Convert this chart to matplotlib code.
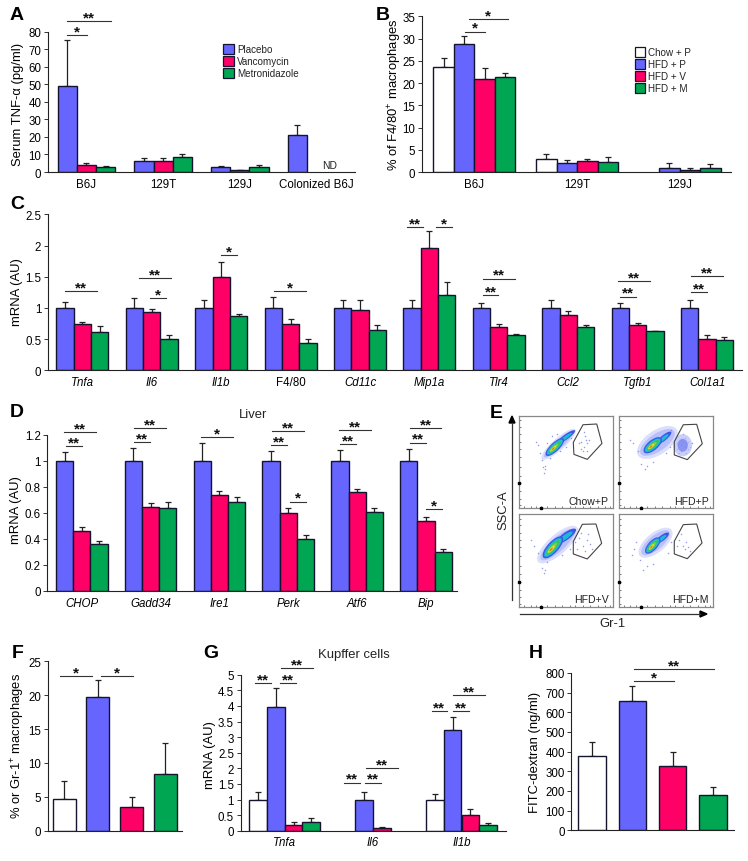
import matplotlib
matplotlib.use("Agg")
import matplotlib.pyplot as plt
import numpy as np
from matplotlib.lines import Line2D
from matplotlib.patches import Ellipse, Polygon, Rectangle
from matplotlib.ticker import FormatStrFormatter
from matplotlib.transforms import Affine2D

plt.rcParams["font.family"] = ["Liberation Sans", "DejaVu Sans"]
plt.rcParams["mathtext.fontset"] = "custom"
plt.rcParams["mathtext.rm"] = "Liberation Sans"
plt.rcParams["mathtext.default"] = "regular"

W, H = 748, 862

WHITE = "#ffffff"
BLUE = "#6666ff"
RED = "#ff0066"
GREEN = "#00a651"
EDGE = "#14142e"
TICK_FS = 8.3
LABEL_FS = 9.4

# panel A
a_groups = ["B6J", "129T", "129J", "Colonized B6J"]
a_names = ["Placebo", "Vancomycin", "Metronidazole"]
a_means = [[49, 4, 2.8], [6.3, 6.5, 8.3], [2.8, 1, 2.7], [21, np.nan, np.nan]]
a_tops = [[75.5, 5.3, 3.7], [7.7, 8.2, 10], [3.6, 1.4, 4.2], [27, np.nan, np.nan]]
a_ticks = [0, 10, 20, 30, 40, 50, 60, 70, 80]

# panel B
b_groups = ["B6J", "129T", "129J"]
b_names = ["Chow + P", "HFD + P", "HFD + V", "HFD + M"]
b_means = [[23.7, 28.7, 21, 21.3], [3, 2, 2.4, 2.3], [np.nan, 1, 0.5, 0.9]]
b_tops = [[25.6, 30.5, 23.3, 22.2], [4, 2.8, 2.9, 3.4], [np.nan, 2, 1, 1.8]]
b_ticks = [0, 5, 10, 15, 20, 25, 30, 35]

# panel C
c_groups = ["Tnfa", "Il6", "Il1b", "F4/80", "Cd11c", "Mip1a", "Tlr4", "Ccl2", "Tgfb1", "Col1a1"]
c_means = [[1, .74, .61], [1, .93, .5], [1, 1.49, .87], [1, .75, .44], [1, .97, .65],
           [1, 1.96, 1.2], [1, .69, .56], [1, .88, .69], [1, .72, .63], [1, .5, .49]]
c_tops = [[1.1, .77, .71], [1.16, .99, .56], [1.12, 1.73, .91], [1.17, .82, .5], [1.13, 1.12, .72],
          [1.12, 2.23, 1.41], [1.08, .74, .58], [1.12, .95, .73], [1.08, .76, .635], [1.13, .56, .54]]
c_ticks = [0, .5, 1, 1.5, 2, 2.5]

# panel D
d_groups = ["CHOP", "Gadd34", "Ire1", "Perk", "Atf6", "Bip"]
d_means = [[1, .46, .365], [1, .645, .64], [1, .735, .685], [1, .6, .4], [1, .76, .605], [1, .54, .3]]
d_tops = [[1.07, .49, .385], [1.1, .68, .685], [1.135, .77, .725], [1.075, .635, .43],
          [1.085, .785, .635], [1.095, .57, .32]]
d_ticks = [0, .2, .4, .6, .8, 1, 1.2]

# panel F
f_means = [[4.7, 19.7, 3.5, 8.3]]
f_tops = [[7.4, 22.2, 4.9, 13]]
f_ticks = [0, 5, 10, 15, 20, 25]

# panel G
g_groups = ["Tnfa", "Il6", "Il1b"]
g_means = [[1, 3.97, .17, .27], [np.nan, 1, .08, np.nan], [1, 3.23, .5, .18]]
g_tops = [[1.25, 4.57, .27, .41], [np.nan, 1.23, .13, np.nan], [1.17, 3.66, .68, .24]]
g_ticks = [0, .5, 1, 1.5, 2, 2.5, 3, 3.5, 4, 4.5, 5]

# panel H
h_means = [[380, 658, 328, 178]]
h_tops = [[449, 733, 400, 218]]
h_ticks = [0, 100, 200, 300, 400, 500, 600, 700, 800]

# panel E, read in percent of each plot box
e_names = ["Chow+P", "HFD+P", "HFD+V", "HFD+M"]
e_gates = [
    [(68.2, 90.2), (82.9, 91), (88.5, 70), (72.8, 52.7), (58.5, 58.1), (57.8, 71.1)],
    [(68.6, 90.2), (82.9, 90.7), (88.9, 69.7), (72.9, 52.4), (59, 57.5), (59, 71.9)],
    [(67.5, 88.9), (82.1, 89.2), (88.2, 68.4), (72.8, 51.5), (57.8, 56.9), (57.8, 70.2)],
    [(68.6, 88.5), (82.9, 89.2), (88.6, 68.7), (72.9, 51.8), (59, 56.9), (59, 70.6)],
]
# centre x, centre y, length, width, angle
e_clouds = [(38, 66, 26, 9.5, 44), (36, 68, 24, 11, 40), (36, 64, 30, 12, 48), (36, 66, 22, 10, 48)]
e_tails = [(50, 77, 24, 5.5, 36), (48, 76, 20, 6, 40), (50, 76, 26, 8, 36), (46, 74, 18, 6, 38)]
e_halos = [(42, 69, 48, 13, 42), (41, 71, 50, 26, 35), (41, 67, 56, 21, 42), (39, 69, 44, 21, 40)]
e_dots = [
    [(66, 72), (69, 66), (71, 74), (68, 62), (73, 70), (70, 78), (66, 64), (72, 62), (75, 74), (64, 70),
     (69, 82), (20, 68), (22, 60), (24, 52), (28, 46), (27, 42), (33, 54), (44, 62), (50, 66), (40, 80),
     (35, 78), (30, 70), (18, 72), (55, 76), (25, 44), (26, 38)],
    [(62, 70), (66, 74), (70, 76), (74, 72), (76, 66), (72, 60), (66, 62), (62, 64), (68, 80), (78, 70),
     (70, 66), (66, 68), (72, 70), (68, 72), (74, 64), (64, 60), (20, 62), (15, 70), (24, 48), (30, 46),
     (54, 66), (56, 84), (50, 60), (36, 50), (12, 74), (28, 42)],
    [(64, 74), (68, 66), (72, 72), (70, 60), (76, 68), (66, 80), (62, 62), (74, 78), (60, 70), (78, 62),
     (12, 72), (16, 66), (20, 58), (24, 42), (28, 40), (30, 48), (46, 56), (54, 62), (58, 78), (26, 36)],
    [(64, 72), (68, 66), (72, 70), (70, 62), (74, 64), (66, 78), (62, 66), (76, 60), (16, 62), (18, 70),
     (22, 50), (30, 44), (36, 46), (52, 58), (56, 70), (14, 56), (26, 40)],
]
e_ticks_y = [3, 10, 18, 27, 35, 44, 55, 64, 72, 80, 88, 95]
e_ticks_x = [5, 12, 18, 23, 30, 38, 46, 54, 60, 68, 76, 84, 92, 97]

fig = plt.figure(figsize=(W / 100, H / 100), dpi=100)
PX = Affine2D().scale(1 / W, -1 / H).translate(0, 1) + fig.transFigure


def fig_line(x, y, color="#333333", lw=0.8):
    fig.add_artist(Line2D(x, y, transform=PX, color=color, lw=lw))


def fig_text(x, y, s, **kw):
    kw.setdefault("ha", "center")
    kw.setdefault("va", "center")
    kw.setdefault("fontsize", 7)
    fig.text(x, y, s, transform=PX, **kw)


def make_axes(left, right, top, bottom):
    return fig.add_axes([left / W, 1 - bottom / H, (right - left) / W, (bottom - top) / H])


def bar_panel(box, means, tops, colors, width, xlim, ylim, ticks, ylabel, label_pos,
              groups=None, italic=True, pad=4):
    ax = make_axes(*box)
    means = np.array(means, dtype=float)
    tops = np.array(tops, dtype=float)
    n = means.shape[1]
    for i in range(means.shape[0]):
        for j in range(n):
            if np.isnan(means[i, j]):
                continue
            # one bar per step when there is a single group
            x = j if len(means) == 1 else i + (j - (n - 1) / 2) * width
            ax.bar(x, means[i, j], width, color=colors[j], edgecolor=EDGE, linewidth=1.0, zorder=2)
            ax.errorbar(x, means[i, j], yerr=[[0], [tops[i, j] - means[i, j]]], color="#222222",
                        elinewidth=0.9, capsize=2.5, capthick=0.9, zorder=1)
    ax.set_xlim(*xlim)
    ax.set_ylim(*ylim)
    ax.set_yticks(ticks)
    ax.yaxis.set_major_formatter(FormatStrFormatter("%g"))
    ax.tick_params(axis="y", length=3.2, width=0.7, pad=1.5, labelsize=TICK_FS, color="#333333")
    if groups:
        ax.set_xticks(range(len(groups)))
        ax.set_xticklabels(groups)
        ax.tick_params(axis="x", length=0, pad=pad, labelsize=TICK_FS)
        if italic:
            for lab in ax.get_xticklabels():
                lab.set_fontstyle("normal" if lab.get_text() == "F4/80" else "italic")
    else:
        ax.set_xticks([])
    ax.spines[["top", "right"]].set_visible(False)
    ax.spines[["left", "bottom"]].set_linewidth(0.8)
    ax.spines[["left", "bottom"]].set_color("#222222")
    ax.set_ylabel(ylabel, fontsize=LABEL_FS, va="center")
    ax.yaxis.set_label_coords(*label_pos, transform=PX)
    return ax


def sig(x0, x1, y, stars):
    fig_line([x0, x1], [y, y])
    fig_text((x0 + x1) / 2, y - 5.5, stars, fontsize=11, fontweight="bold", va="center_baseline",
             color="#111111")


def legend(x, ys, names, colors, h):
    for y, name, col in zip(ys, names, colors):
        fig.add_artist(Rectangle((x, y), 10.5, h, transform=PX, facecolor=col, edgecolor=EDGE, lw=0.9))
        fig_text(x + 13.5, y + h / 2, name, ha="left", fontsize=7.1, color="#222222")


def flow_panel(box, idx, label):
    ax = make_axes(*box)
    ax.set_xlim(0, 100)
    ax.set_ylim(0, 100)
    ax.set_xticks(e_ticks_x)
    ax.set_yticks(e_ticks_y)
    ax.tick_params(length=1.5, width=0.5, direction="in", color="#444444", labelleft=False, labelbottom=False)
    ax.spines[:].set_color("#888888")
    ax.spines[:].set_linewidth(0.9)
    hx, hy, hl, hw, ha = e_halos[idx]
    ax.add_patch(Ellipse((hx, hy), hl, hw, angle=ha, facecolor="#d4d7fc", edgecolor="none", alpha=0.8))
    ax.add_patch(Ellipse((hx, hy), hl * .86, hw * .72, angle=ha, facecolor="#aab2f8", edgecolor="none", alpha=0.7))
    tx, ty, tl, tw, ta = e_tails[idx]
    ax.add_patch(Ellipse((tx, ty), tl, tw, angle=ta, facecolor="#3c55e6", edgecolor="none"))
    ax.add_patch(Ellipse((tx - 1, ty - 1), tl * .76, tw * .6, angle=ta, facecolor="#1cb8d8", edgecolor="none"))
    cx, cy, length, width, angle = e_clouds[idx]
    shift = np.radians(angle)
    layers = [(1.0, 1.0, "#3c55e6", 0), (.9, .8, "#2a8fe0", 0), (.82, .66, "#19c8d0", 0), (.7, .5, "#35c26a", 0),
              (.5, .36, "#7ed040", -.04), (.34, .24, "#e2e030", -.08), (.18, .14, "#f07020", -.1)]
    for fl, fw, col, off in layers:
        ax.add_patch(Ellipse((cx + off * length * np.cos(shift), cy + off * length * np.sin(shift)),
                             length * fl, width * fw, angle=angle, facecolor=col, edgecolor="none"))
    dx, dy = zip(*e_dots[idx])
    ax.scatter(dx, dy, s=1.2, color="#7684ee", linewidths=0, alpha=0.8)
    if idx == 1:
        # the gated population is dense in this sample
        ax.add_patch(Ellipse((68, 68), 20, 24, facecolor="#b4baf8", edgecolor="none", alpha=0.7))
        ax.add_patch(Ellipse((68, 68), 11, 14, facecolor="#6f7cf0", edgecolor="none", alpha=0.7))
    ax.add_patch(Polygon(e_gates[idx], closed=True, fill=False, edgecolor="#444444", lw=0.8))
    ax.plot([0, 23], [27, 0], "s", color="black", ms=2, clip_on=False, zorder=5, ls="none")
    ax.text(96, 8, label, ha="right", va="center", fontsize=7.6, color="#222222")


step_lim = (-0.5, 3.5)
a = bar_panel((48, 355, 32.7, 173), a_means, a_tops, [BLUE, RED, GREEN], .25, step_lim, (0, 80),
              a_ticks, "Serum TNF-α (pg/ml)", (18, 104), a_groups, italic=False)
b = bar_panel((421.7, 731, 17.3, 173), b_means, b_tops, [WHITE, BLUE, RED, GREEN], .2, (-.514, 2.5), (0, 35),
              b_ticks, "% of F4/80$^{+}$ macrophages", (395, 95), b_groups, italic=False)
c = bar_panel((47.7, 741.7, 215.3, 371.3), c_means, c_tops, [BLUE, RED, GREEN], .25, (-.5, 9.5), (0, 2.5),
              c_ticks, "mRNA (AU)", (17, 292), c_groups)
d = bar_panel((47.3, 457, 436, 592), d_means, d_tops, [BLUE, RED, GREEN], .25, (-.5, 5.45), (0, 1.2),
              d_ticks, "mRNA (AU)", (16, 510), d_groups)
f = bar_panel((48, 181.7, 662.3, 831.7), f_means, f_tops, [WHITE, BLUE, RED, GREEN], .68, (-.48, 3.49), (0, 25),
              f_ticks, "% or Gr-1$^{+}$ macrophages", (18, 746))
g = bar_panel((240.5, 505.7, 675.7, 831.7), g_means, g_tops, [WHITE, BLUE, RED, GREEN], .2, (-.5, 2.5), (0, 5),
              g_ticks, "mRNA (AU)", (210, 755), g_groups)
h = bar_panel((571.3, 734, 674, 831.3), h_means, h_tops, [WHITE, BLUE, RED, GREEN], .68, (-.51, 3.52), (0, 800),
              h_ticks, "FITC-dextran (ng/ml)", (535, 752))

flow_panel((519.3, 612.7, 416.7, 509), 0, e_names[0])
flow_panel((619, 712.7, 416.7, 509), 1, e_names[1])
flow_panel((519.3, 612.7, 515, 607.7), 2, e_names[2])
flow_panel((619, 712.7, 515, 607.7), 3, e_names[3])

# flow axis arrows
fig_line([512, 512], [601, 424], color="#333333", lw=0.9)
fig_line([520, 700], [615, 615], color="#333333", lw=0.9)
fig.add_artist(Polygon([(512, 417), (509, 424), (515, 424)], closed=True, transform=PX, color="black"))
fig.add_artist(Polygon([(707, 615), (700, 612), (700, 618)], closed=True, transform=PX, color="black"))
fig_text(503, 510, "SSC-A", rotation=90, fontsize=LABEL_FS, color="#222222")
fig_text(612, 624, "Gr-1", fontsize=LABEL_FS, color="#222222")

legend(223.3, [45, 57, 69], a_names, [BLUE, RED, GREEN], 10)
legend(635, [47.5, 59.5, 71.5, 83.5], b_names, [WHITE, BLUE, RED, GREEN], 10)

fig_text(330, 165.7, "ND", fontsize=7.4, color="#222222")
fig_text(253, 415, "Liver", fontsize=9.4, color="#222222")
fig_text(318, 655, "Kupffer cells", ha="left", fontsize=9.4, color="#222222")

panel_letters = [("A", 10, 16), ("B", 376, 16), ("C", 10, 205), ("D", 10, 413),
                 ("E", 490, 414), ("F", 12, 654), ("G", 203, 654), ("H", 529, 654)]
for letter, x, y in panel_letters:
    fig_text(x, y, letter, ha="left", fontsize=14, fontweight="bold", color="black")

sig_marks = [
    (67, 86.7, 36, "*"), (67, 110.7, 22.3, "**"),
    (465.3, 484.7, 32.7, "*"), (468.7, 508, 20.3, "*"),
    (65, 96.7, 292, "**"), (138.7, 170.7, 279.3, "**"), (150.3, 166.3, 299, "*"),
    (221.3, 237, 256.3, "*"), (274, 305.7, 292.3, "*"),
    (407.3, 422.7, 228.3, "**"), (435.7, 451.7, 228.3, "*"),
    (483, 498.3, 296.3, "**"), (482.7, 514.7, 279.7, "**"),
    (620, 635.7, 297.7, "**"), (618.3, 650, 282.3, "**"),
    (691.3, 706.7, 293, "**"), (691, 723, 277.3, "**"),
    (66.3, 82, 447.3, "**"), (64, 95.7, 433.3, "**"),
    (134.3, 150, 443.3, "**"), (134.3, 166.3, 429, "**"),
    (201, 232.7, 438.3, "*"),
    (270.7, 286.7, 446.3, "**"), (272.3, 304, 432.3, "**"), (290, 305.7, 502.7, "*"),
    (340, 355.7, 445.3, "**"), (339.3, 371, 431.3, "**"),
    (410, 425.7, 443.7, "**"), (409.7, 441.3, 429.3, "**"), (426.3, 442, 510.3, "*"),
    (60.3, 92, 677.3, "*"), (101, 133, 677.3, "*"),
    (255.3, 271, 684, "**"), (280, 295.7, 684, "**"), (281, 313, 669.3, "**"),
    (343.7, 359.7, 783.7, "**"), (365, 381, 783.7, "**"), (365.7, 397.7, 769.3, "**"),
    (431.7, 447, 712.3, "**"), (453.3, 468.7, 712.3, "**"), (452.7, 484.7, 696.3, "**"),
    (633.7, 673.7, 682.3, "*"), (633.7, 713.7, 670, "**"),
]
for x0, x1, y, stars in sig_marks:
    sig(x0, x1, y, stars)

fig.savefig("out.png", dpi=100)
